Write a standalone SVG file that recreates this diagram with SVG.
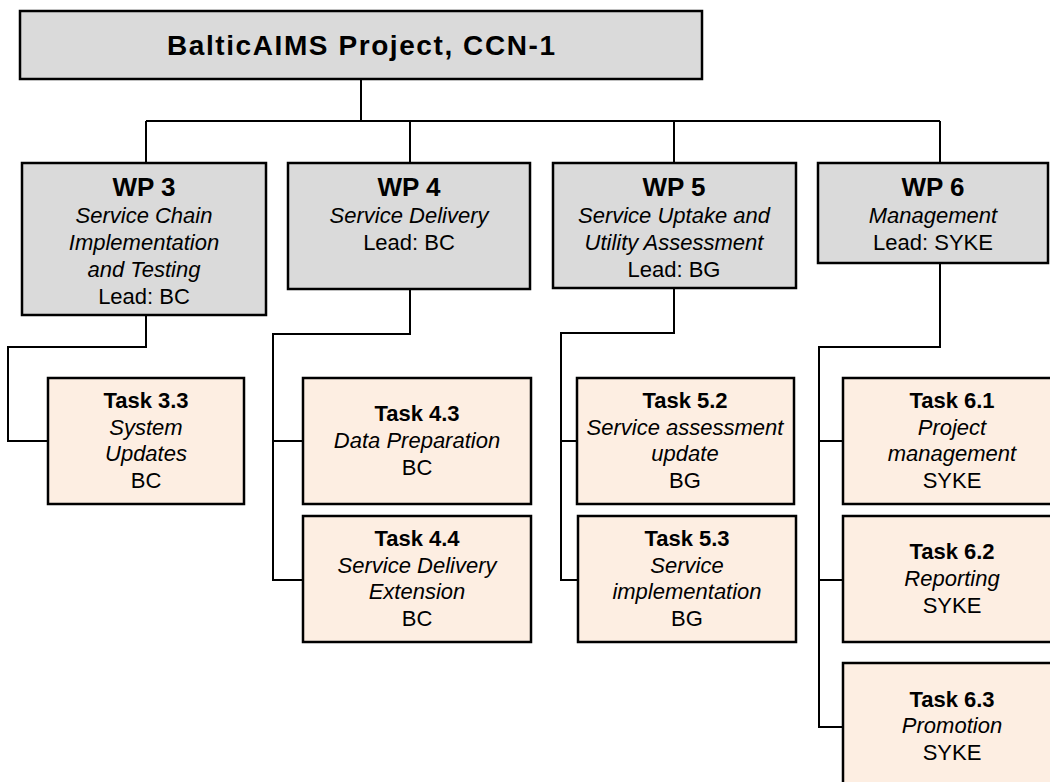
<svg xmlns="http://www.w3.org/2000/svg" width="1050" height="782" viewBox="0 0 1050 782">
<style>
.wp{fill:#dadada;stroke:#000;stroke-width:2.5}
.task{fill:#fdeee2;stroke:#000;stroke-width:2.5}
.conn{fill:none;stroke:#000;stroke-width:2}
text{font-family:"Liberation Sans",Arial,sans-serif;fill:#000;text-anchor:middle}
.t{font-size:28px;font-weight:bold}
.h{font-size:26px;font-weight:bold}
.tb{font-size:22px;font-weight:bold}
.i{font-size:22px;font-style:italic}
.r{font-size:22px}
</style>
<rect width="1050" height="782" fill="#fff"/>
<g id="connectors">
<path class="conn" d="M361 79V121M146 121H940M146 121V163M410 121V163M674 121V163M940 121V163"/>
<path class="conn" d="M146 315V347H8V441H48"/>
<path class="conn" d="M410 289V334H273V580H303M273 441H303"/>
<path class="conn" d="M674 288V333H561V580H578M561 441H577"/>
<path class="conn" d="M940 263V347H819V727H843M819 441H843M819 580H843"/>
</g>
<g id="root">
<rect class="wp" x="20" y="11" width="682" height="68"/>
<text class="t" x="361" y="55" textLength="388" lengthAdjust="spacing">BalticAIMS Project, CCN-1</text>
</g>
<g id="wp3">
<rect class="wp" x="22" y="163" width="244" height="152"/>
<text class="h" x="144" y="196">WP 3</text>
<text class="i" x="144" y="223">Service Chain</text>
<text class="i" x="144" y="250">Implementation</text>
<text class="i" x="144" y="277">and Testing</text>
<text class="r" x="144" y="304">Lead: BC</text>
</g>
<g id="wp4">
<rect class="wp" x="288" y="163" width="242" height="126"/>
<text class="h" x="409" y="196">WP 4</text>
<text class="i" x="409" y="223">Service Delivery</text>
<text class="r" x="409" y="250">Lead: BC</text>
</g>
<g id="wp5">
<rect class="wp" x="553" y="163" width="243" height="125"/>
<text class="h" x="674" y="196">WP 5</text>
<text class="i" x="674" y="223">Service Uptake and</text>
<text class="i" x="674" y="250">Utility Assessment</text>
<text class="r" x="674" y="277">Lead: BG</text>
</g>
<g id="wp6">
<rect class="wp" x="818" y="163" width="230" height="100"/>
<text class="h" x="933" y="196">WP 6</text>
<text class="i" x="933" y="223">Management</text>
<text class="r" x="933" y="250">Lead: SYKE</text>
</g>
<g id="task33">
<rect class="task" x="48" y="378" width="196" height="126"/>
<text class="tb" x="146" y="408">Task 3.3</text>
<text class="i" x="146" y="435">System</text>
<text class="i" x="146" y="461">Updates</text>
<text class="r" x="146" y="488">BC</text>
</g>
<g id="task43">
<rect class="task" x="303" y="378" width="228" height="126"/>
<text class="tb" x="417" y="421">Task 4.3</text>
<text class="i" x="417" y="448">Data Preparation</text>
<text class="r" x="417" y="475">BC</text>
</g>
<g id="task44">
<rect class="task" x="303" y="516" width="228" height="126"/>
<text class="tb" x="417" y="546">Task 4.4</text>
<text class="i" x="417" y="573">Service Delivery</text>
<text class="i" x="417" y="599">Extension</text>
<text class="r" x="417" y="626">BC</text>
</g>
<g id="task52">
<rect class="task" x="577" y="378" width="217" height="126"/>
<text class="tb" x="685" y="408">Task 5.2</text>
<text class="i" x="685" y="435">Service assessment</text>
<text class="i" x="685" y="461">update</text>
<text class="r" x="685" y="488">BG</text>
</g>
<g id="task53">
<rect class="task" x="578" y="516" width="218" height="126"/>
<text class="tb" x="687" y="546">Task 5.3</text>
<text class="i" x="687" y="573">Service</text>
<text class="i" x="687" y="599">implementation</text>
<text class="r" x="687" y="626">BG</text>
</g>
<g id="task61">
<rect class="task" x="843" y="378" width="218" height="126"/>
<text class="tb" x="952" y="408">Task 6.1</text>
<text class="i" x="952" y="435">Project</text>
<text class="i" x="952" y="461">management</text>
<text class="r" x="952" y="488">SYKE</text>
</g>
<g id="task62">
<rect class="task" x="843" y="516" width="218" height="126"/>
<text class="tb" x="952" y="559">Task 6.2</text>
<text class="i" x="952" y="586">Reporting</text>
<text class="r" x="952" y="613">SYKE</text>
</g>
<g id="task63">
<rect class="task" x="843" y="663" width="218" height="130"/>
<text class="tb" x="952" y="707">Task 6.3</text>
<text class="i" x="952" y="733">Promotion</text>
<text class="r" x="952" y="760">SYKE</text>
</g>
</svg>
